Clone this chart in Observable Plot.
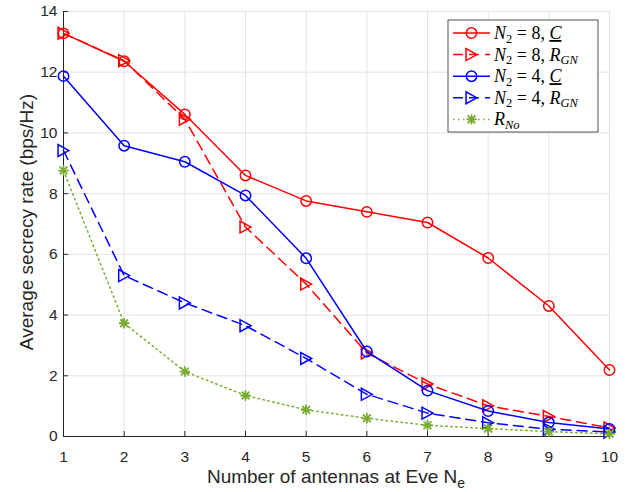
<!DOCTYPE html>
<html><head><meta charset="utf-8">
<script src="https://cdn.jsdelivr.net/npm/d3@7"></script>
<script src="https://cdn.jsdelivr.net/npm/@observablehq/plot@0.6"></script>
<style>
html,body{margin:0;padding:0;background:#fff}
#chart{width:630px;height:492px;overflow:hidden}
</style>
</head><body><div id="chart"></div>
<script>
// ---- data ----
const antennas = [1, 2, 3, 4, 5, 6, 7, 8, 9, 10];
const n8C   = [13.28, 12.36, 10.61, 8.60, 7.76, 7.40, 7.05, 5.88, 4.30, 2.19];
const n8RGN = [13.28, 12.38, 10.45, 6.90, 5.02, 2.75, 1.73, 1.01, 0.66, 0.28];
const n4C   = [11.87, 9.58, 9.05, 7.94, 5.87, 2.80, 1.51, 0.84, 0.46, 0.25];
const n4RGN = [9.42, 5.30, 4.40, 3.65, 2.57, 1.39, 0.77, 0.45, 0.24, 0.15];
const rNo   = [8.76, 3.73, 2.14, 1.35, 0.88, 0.60, 0.37, 0.26, 0.16, 0.09];
const xTicks = [1, 2, 3, 4, 5, 6, 7, 8, 9, 10];
const yTicks = [0, 2, 4, 6, 8, 10, 12, 14];
const xLabel = "Number of antennas at Eve N";
const xLabelSub = "e";
const yLabel = "Average secrecy rate (bps/Hz)";

// ---- marker shapes ----
const triRight = {draw(ctx, size) {
  const r = Math.sqrt(size / Math.PI);
  ctx.moveTo(r * 1.05, 0); ctx.lineTo(-r * 1.05, -r * 1.15); ctx.lineTo(-r * 1.05, r * 1.15); ctx.closePath();
}};
const asterisk = {draw(ctx, size) {
  const r = Math.sqrt(size / Math.PI), d = r * 0.75;
  ctx.moveTo(-r, 0); ctx.lineTo(r, 0);
  ctx.moveTo(0, -r); ctx.lineTo(0, r);
  ctx.moveTo(-d, -d); ctx.lineTo(d, d);
  ctx.moveTo(-d, d); ctx.lineTo(d, -d);
}};
const circleSym = {draw(ctx, size) {
  const r = Math.sqrt(size / Math.PI);
  ctx.moveTo(r, 0); ctx.arc(0, 0, r, 0, 2 * Math.PI);
}};

const series = [
  {key: "n8C", values: n8C, color: "#ff0000", dash: null, symbol: circleSym, r: 5.2},
  {key: "n8RGN", values: n8RGN, color: "#ff0000", dash: "10,6", symbol: triRight, r: 5.2},
  {key: "n4C", values: n4C, color: "#0000ff", dash: null, symbol: circleSym, r: 5.2},
  {key: "n4RGN", values: n4RGN, color: "#0000ff", dash: "10,6", symbol: triRight, r: 5.2},
  {key: "rNo", values: rNo, color: "#77ac30", dash: "1.5,3.5", symbol: asterisk, r: 5.2}
];

const axisColor = "#262626";
const gridColor = "#e3e3e3";

const marks = [
  Plot.gridX({ticks: xTicks, stroke: gridColor, strokeOpacity: 1, strokeWidth: 1}),
  Plot.gridY({ticks: yTicks, stroke: gridColor, strokeOpacity: 1, strokeWidth: 1}),
  Plot.ruleY([0], {stroke: axisColor, strokeWidth: 1}),
  Plot.ruleX([1], {stroke: axisColor, strokeWidth: 1}),
  Plot.axisX({ticks: xTicks, tickSize: -5, tickPadding: 19, fontSize: 15.5, color: axisColor, label: null, tickFormat: d => String(d)}),
  Plot.axisY({ticks: yTicks, tickSize: -5, tickPadding: 11, fontSize: 15.5, color: axisColor, label: null, tickFormat: d => String(d)})
];
for (const s of series) {
  const data = antennas.map((x, i) => ({x, y: s.values[i]}));
  marks.push(Plot.line(data, {x: "x", y: "y", stroke: s.color, strokeWidth: 1.5, strokeDasharray: s.dash}));
  marks.push(Plot.dot(data, {x: "x", y: "y", stroke: s.color, fill: "none", strokeWidth: s.key === "rNo" ? 1.8 : 1.5, r: s.r, symbol: s.symbol}));
}

const chart = Plot.plot({
  width: 630, height: 492,
  marginLeft: 63, marginRight: 21, marginTop: 11, marginBottom: 56,
  x: {domain: [1, 10]},
  y: {domain: [0, 14]},
  style: {fontFamily: "'Liberation Sans', Arial, sans-serif", fontSize: "16px", color: axisColor, background: "#fff"},
  marks
});
document.getElementById("chart").appendChild(chart);

// ---- axis titles and legend ----
const svg = d3.select(chart);
const xt = svg.append("text")
  .attr("x", 336).attr("y", 483).attr("text-anchor", "middle")
  .attr("font-family", "'Liberation Sans', Arial, sans-serif").attr("font-size", 19).attr("fill", axisColor);
xt.append("tspan").text(xLabel);
xt.append("tspan").attr("font-size", 14).attr("dy", 5).text(xLabelSub);

svg.append("text")
  .attr("transform", "translate(33,222) rotate(-90)").attr("text-anchor", "middle")
  .attr("font-family", "'Liberation Sans', Arial, sans-serif").attr("font-size", 19).attr("fill", axisColor)
  .text(yLabel);

const lg = svg.append("g").attr("font-family", "'Liberation Serif', 'Times New Roman', serif")
  .attr("font-size", 18).attr("fill", "#000").attr("text-anchor", "start");
lg.append("rect").attr("x", 448).attr("y", 20).attr("width", 150).attr("height", 112)
  .attr("fill", "#fff").attr("stroke", axisColor).attr("stroke-width", 0.8);
const legendRows = [
  {s: series[0], parts: [["N", "i"], ["2", "sub"], [" = 8, ", "n"], ["C", "iu"]]},
  {s: series[1], parts: [["N", "i"], ["2", "sub"], [" = 8, ", "n"], ["R", "i"], ["GN", "subi"]]},
  {s: series[2], parts: [["N", "i"], ["2", "sub"], [" = 4, ", "n"], ["C", "iu"]]},
  {s: series[3], parts: [["N", "i"], ["2", "sub"], [" = 4, ", "n"], ["R", "i"], ["GN", "subi"]]},
  {s: series[4], parts: [["R", "i"], ["No", "subi"]]}
];
legendRows.forEach((row, i) => {
  const y = 33 + i * 21.6;
  lg.append("line").attr("x1", 453).attr("x2", 490).attr("y1", y).attr("y2", y)
    .attr("stroke", row.s.color).attr("stroke-width", 1.5).attr("stroke-dasharray", row.s.dash);
  lg.append("path").attr("transform", `translate(471.5,${y})`)
    .attr("d", d3.symbol(row.s.symbol, Math.PI * row.s.r * row.s.r)())
    .attr("fill", "none").attr("stroke", row.s.color).attr("stroke-width", row.s.key === "rNo" ? 1.8 : 1.5);
  const t = lg.append("text").attr("x", 494).attr("y", y + 6).attr("text-anchor", "start");
  let sub = false;
  for (const [str, kind] of row.parts) {
    const ts = t.append("tspan").text(str);
    if (kind === "sub" || kind === "subi") {
      ts.attr("font-size", 12.5).attr("dy", 3.5);
      if (kind === "subi") ts.attr("font-style", "italic");
      sub = true;
    } else {
      if (sub) { ts.attr("dy", -3.5); sub = false; }
      if (kind === "i" || kind === "iu") ts.attr("font-style", "italic");
      if (kind === "iu") ts.attr("text-decoration", "underline");
    }
  }
});
</script>
</body></html>
